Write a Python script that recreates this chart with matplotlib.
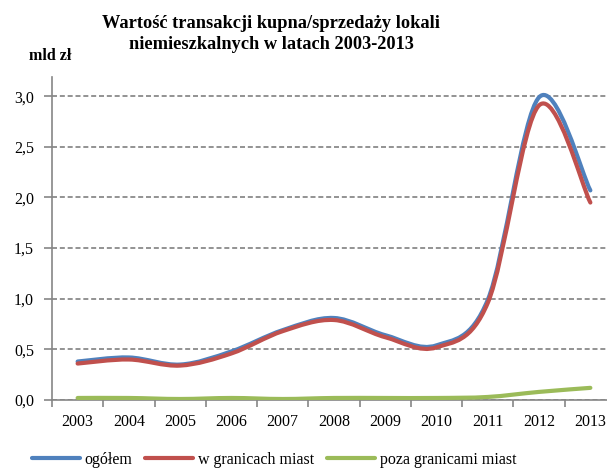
import numpy as np
import matplotlib
matplotlib.use("Agg")
import matplotlib.pyplot as plt
from matplotlib.path import Path
from matplotlib.patches import PathPatch
from matplotlib.lines import Line2D
from matplotlib.ticker import FixedLocator, FuncFormatter

plt.rcParams["font.family"] = ["Liberation Serif", "DejaVu Serif"]

years = [str(y) for y in range(2003, 2014)]
ogolem = [0.38, 0.42, 0.35, 0.48, 0.69, 0.81, 0.64, 0.54, 0.99, 2.99, 2.07]
w_granicach = [0.36, 0.40, 0.34, 0.46, 0.68, 0.79, 0.62, 0.52, 0.96, 2.91, 1.95]
poza_granicami = [0.02, 0.02, 0.01, 0.02, 0.01, 0.02, 0.02, 0.02, 0.03, 0.08, 0.12]

series = [
    ("ogółem", ogolem, "#4F81BD"),
    ("w granicach miast", w_granicach, "#C0504D"),
    ("poza granicami miast", poza_granicami, "#9BBB59"),
]


def smooth_path(xs, ys):
    # excel-like smoothed line: cubic bezier segments through the points
    pts = np.column_stack([xs, ys]).astype(float)
    padded = np.vstack([pts[0], pts, pts[-1]])
    verts = [pts[0]]
    codes = [Path.MOVETO]
    for i in range(len(pts) - 1):
        p0, p1, p2, p3 = padded[i], padded[i + 1], padded[i + 2], padded[i + 3]
        verts += [p1 + (p2 - p0) / 6, p2 - (p3 - p1) / 6, p2]
        codes += [Path.CURVE4] * 3
    return Path(verts, codes)


fig = plt.figure(figsize=(6.07, 4.70), dpi=100)
ax = fig.add_axes([52 / 607, 70 / 470, 564 / 607, 323 / 470])

x = np.arange(len(years))
handles = []
for label, vals, color in series:
    patch = PathPatch(smooth_path(x, vals), fill=False, edgecolor=color,
                      linewidth=3.0, capstyle="round", joinstyle="round", zorder=3)
    ax.add_patch(patch)
    handles.append(Line2D([], [], color=color, linewidth=3.0, solid_capstyle="round"))

ax.set_xlim(-0.5, len(years) - 0.5)
ax.set_ylim(0, 3.19)

ax.set_xticks(x)
ax.set_xticklabels(years)
ax.xaxis.set_minor_locator(FixedLocator(np.arange(-0.5, len(years), 1.0)))
ax.tick_params(axis="x", which="major", length=0, pad=10, labelsize=11.5)
ax.tick_params(axis="x", which="minor", length=5, width=1.2, color="#868686", direction="out")

ax.set_yticks(np.arange(0, 3.01, 0.5))
ax.yaxis.set_major_formatter(FuncFormatter(lambda v, _: f"{v:.1f}".replace(".", ",")))
ax.tick_params(axis="y", length=6, width=1.2, color="#868686", pad=7, labelsize=11.5)

ax.yaxis.grid(True, linestyle=(0, (3, 1.7)), color="#808080", linewidth=1.2)
ax.set_axisbelow(True)

for side in ["top", "right"]:
    ax.spines[side].set_visible(False)
for side in ["left", "bottom"]:
    ax.spines[side].set_color("#868686")
    ax.spines[side].set_linewidth(1.2)
    ax.spines[side].set_zorder(2.5)

fig.text(271 / 607, 1 - 34 / 470, "Wartość transakcji kupna/sprzedaży lokali\nniemieszkalnych w latach 2003-2013",
         ha="center", va="center", fontsize=13.2, fontweight="bold", linespacing=1.25)
fig.text(50 / 607, 1 - 56 / 470, "mld zł", ha="center", va="center", fontsize=11.5, fontweight="bold")

fig.legend(handles, [s[0] for s in series], loc="center", bbox_to_anchor=(274 / 607, 10 / 470),
           ncol=3, frameon=False, fontsize=11.5, handlelength=3.0, handletextpad=0.3,
           columnspacing=0.8, borderaxespad=0)

fig.savefig("out.png", dpi=100)
